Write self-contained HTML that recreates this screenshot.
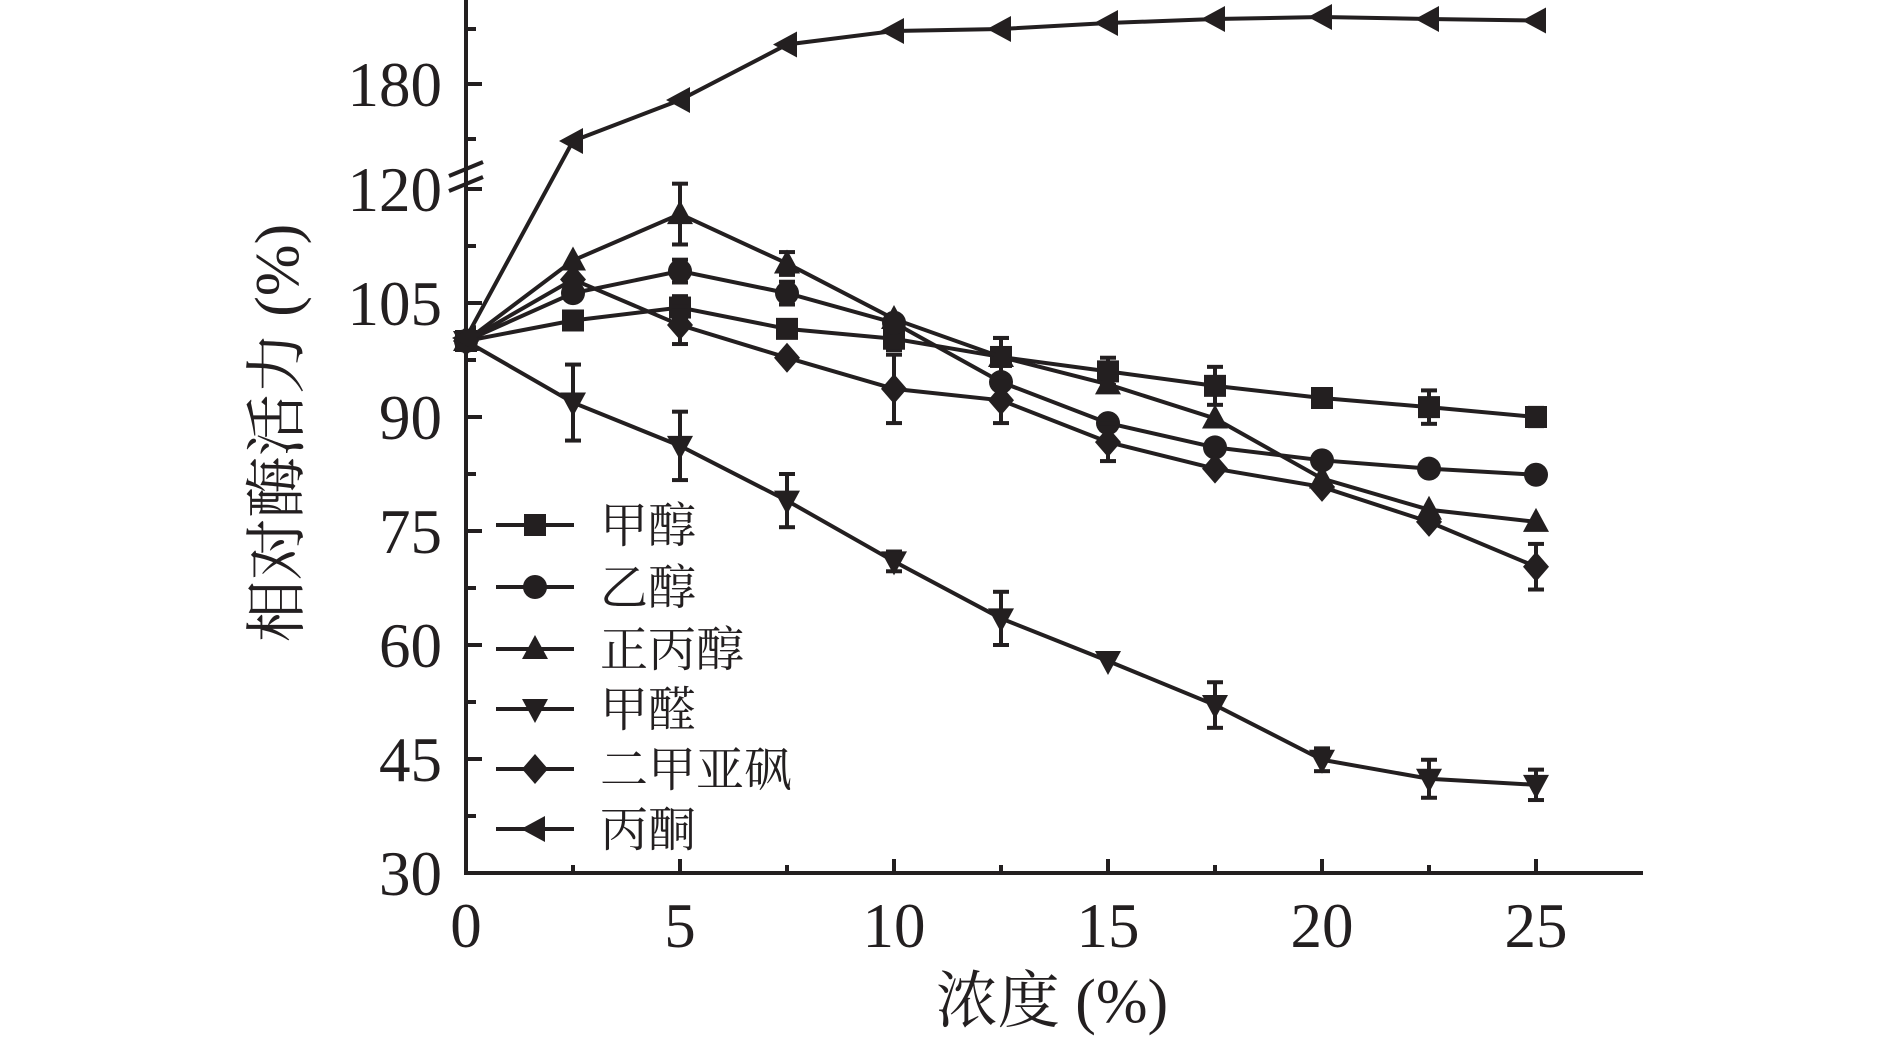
<!DOCTYPE html>
<html><head><meta charset="utf-8"><style>
html,body{margin:0;padding:0;background:#fff;}
svg{display:block;}
text{font-family:"Liberation Serif","Noto Serif CJK SC",serif;fill:#231f20;}
</style></head><body>
<svg id="s" width="1890" height="1044" viewBox="0 0 1890 1044" xmlns="http://www.w3.org/2000/svg">
<g id="g" stroke="#231f20" fill="#231f20"></g>
<g font-size="63" text-anchor="end">
<text x="442" y="895">30</text><text x="442" y="781">45</text><text x="442" y="667">60</text>
<text x="442" y="553">75</text><text x="442" y="439">90</text><text x="442" y="325">105</text>
<text x="442" y="211">120</text><text x="442" y="106">180</text>
</g>
<g font-size="63" text-anchor="middle">
<text x="466" y="947">0</text><text x="680" y="947">5</text><text x="894" y="947">10</text>
<text x="1108" y="947">15</text><text x="1322" y="947">20</text><text x="1536" y="947">25</text>
</g>
<text x="1052" y="1022" font-size="62" text-anchor="middle">浓度 (%)</text>
<text transform="translate(298,433) rotate(-90)" font-size="62" text-anchor="middle">相对酶活力 (%)</text>
<g font-size="48">
<text x="600" y="542">甲醇</text><text x="600" y="604">乙醇</text><text x="600" y="666">正丙醇</text>
<text x="600" y="726">甲醛</text><text x="600" y="786">二甲亚砜</text><text x="600" y="846">丙酮</text>
</g>
</svg>
<script>
var g=document.getElementById('g'),NS='http://www.w3.org/2000/svg';
function el(t,a){var e=document.createElementNS(NS,t);for(var k in a)e.setAttribute(k,a[k]);g.appendChild(e);return e;}
function X(c){return 466+c*42.8;}
function Y(v){return 873-(v-30)*7.6;}
el('line',{x1:466,y1:0,x2:466,y2:875,'stroke-width':4});
el('line',{x1:464,y1:873,x2:1643,y2:873,'stroke-width':4});
for(var i=0;i<=10;i++){var x=X(i*2.5);el('line',{x1:x,y1:873,x2:x,y2:i%2?865:859,'stroke-width':4});}
for(var v=30;v<=120;v+=7.5){var y=Y(v);el('line',{x1:466,y1:y,x2:((v-30)%15?476:482),y2:y,'stroke-width':4});}
[[29,476],[84,482],[139,476]].forEach(function(t){el('line',{x1:466,y1:t[0],x2:t[1],y2:t[0],'stroke-width':4});});
el('line',{x1:449,y1:176,x2:483,y2:162,'stroke-width':4});
el('line',{x1:449,y1:191,x2:483,y2:177,'stroke-width':4});
var xs=[0,2.5,5,7.5,10,12.5,15,17.5,20,22.5,25];
function mk(type,x,y){var s=11;
 if(type=='sq')el('rect',{x:x-s,y:y-s,width:2*s,height:2*s,stroke:'none'});
 else if(type=='ci')el('circle',{cx:x,cy:y,r:s+1,stroke:'none'});
 else if(type=='up')el('polygon',{points:(x)+','+(y-14)+' '+(x+13)+','+(y+10)+' '+(x-13)+','+(y+10),stroke:'none'});
 else if(type=='dn')el('polygon',{points:(x)+','+(y+14)+' '+(x+13)+','+(y-10)+' '+(x-13)+','+(y-10),stroke:'none'});
 else if(type=='di')el('polygon',{points:x+','+(y-15)+' '+(x+13)+','+y+' '+x+','+(y+15)+' '+(x-13)+','+y,stroke:'none'});
 else if(type=='le')el('polygon',{points:(x-14)+','+y+' '+(x+10)+','+(y-13)+' '+(x+10)+','+(y+13),stroke:'none'});
}
function eb(x,y1,y2){el('line',{x1:x,y1:y1,x2:x,y2:y2,'stroke-width':4});el('line',{x1:x-8,y1:y1,x2:x+8,y2:y1,'stroke-width':4});el('line',{x1:x-8,y1:y2,x2:x+8,y2:y2,'stroke-width':4});}
var series=[
['sq',[100,102.7,104.4,101.6,100.3,97.9,96,94.1,92.5,91.3,90],{2:1.5,4:1.5,5:2.5,6:1.8,7:2.5,9:2.2,10:1.2}],
['ci',[100,106.3,109.2,106.3,102.4,94.6,89.2,86,84.3,83.2,82.4],{2:1.5,3:1.5}],
['up',[100,110.6,116.7,110.2,102.9,97.9,94.3,89.8,81.9,77.8,76.2],{2:4,3:1.5,5:2.5}],
['dn',[100,91.9,86.2,79,71,63.5,57.9,52.1,44.9,42.4,41.6],{1:5,2:4.5,3:3.5,4:1.3,5:3.5,7:3,8:1.5,9:2.5,10:2}],
['di',[100,108.1,102.1,97.8,93.7,92.2,86.7,83.2,80.8,76.2,70.3],{2:2.5,4:4.5,5:3,6:2.5,10:3}]];
series.forEach(function(s){var p=[];s[1].forEach(function(v,i){p.push(X(xs[i])+','+Y(v));
 if(s[2][i]!==undefined)eb(X(xs[i]),Y(v+s[2][i]),Y(v-s[2][i]));});
 el('polyline',{points:p.join(' '),fill:'none','stroke-width':4});
 s[1].forEach(function(v,i){mk(s[0],X(xs[i]),Y(v));});});
var ac=[338,141,100,44.5,31,29,23,19,17,19,20.5],p=[];
ac.forEach(function(y,i){p.push(X(xs[i])+','+y);});
el('polyline',{points:p.join(' '),fill:'none','stroke-width':4});
ac.forEach(function(y,i){mk('le',X(xs[i]),y);});
var ly=[525,587,649,709,769,829],lt=['sq','ci','up','dn','di','le'];
ly.forEach(function(y,i){el('line',{x1:496,y1:y,x2:574,y2:y,'stroke-width':4});mk(lt[i],535,y);});
</script>
</body></html>
